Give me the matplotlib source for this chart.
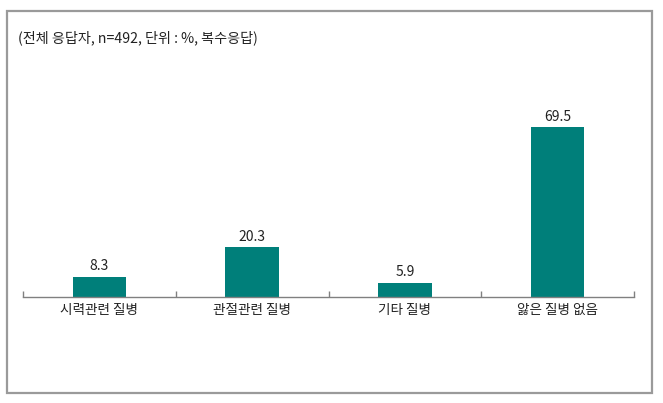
import matplotlib
matplotlib.use("Agg")
import matplotlib.pyplot as plt
from matplotlib.patches import Rectangle

plt.rcParams['font.family'] = ['Noto Sans CJK KR', 'DejaVu Sans']

# data
categories = ['시력관련 질병', '관절관련 질병', '기타 질병', '앓은 질병 없음']
values = [8.3, 20.3, 5.9, 69.5]
note = '(전체 응답자, n=492, 단위 : %, 복수응답)'
bar_color = '#007f7a'

W, H = 663, 403
fig = plt.figure(figsize=(W / 100, H / 100), dpi=100)

# outer frame
fig.patches.append(Rectangle((7 / W, 1 - 393 / H), 645 / W, 382 / H,
                             transform=fig.transFigure, fill=False,
                             edgecolor='#9a9a9a', linewidth=1.6))

# axes: x 23..634, baseline at y=297, top at y=60
ax = fig.add_axes([23 / W, 1 - 297 / H, 611 / W, 237 / H])
x = list(range(len(categories)))
ax.bar(x, values, width=0.35, color=bar_color)
ax.set_xlim(-0.5, len(categories) - 0.5)
ax.set_ylim(0, 96.9)

for xi, v in zip(x, values):
    ax.annotate(f'{v:.1f}', (xi, v), xytext=(0, 2.5), textcoords='offset points',
                ha='center', va='bottom', fontsize=10, color='#222222')

for s in ['top', 'right', 'left']:
    ax.spines[s].set_visible(False)
ax.spines['bottom'].set_color('#808080')
ax.spines['bottom'].set_linewidth(1.0)
ax.set_yticks([])

ax.set_xticks([i - 0.5 for i in range(len(categories) + 1)], minor=False)
ax.set_xticklabels([])
ax.tick_params(axis='x', which='major', direction='in', length=4,
               color='#808080', width=1.0)
ax.set_xticks(x, minor=True)
ax.set_xticklabels(categories, minor=True, fontsize=9.8, color='#222222')
ax.tick_params(axis='x', which='minor', length=0, pad=4)

fig.text(18 / W, 1 - 38 / H, note, fontsize=10.2, va='center', ha='left',
         color='#222222')

fig.savefig('out.png', dpi=100)
